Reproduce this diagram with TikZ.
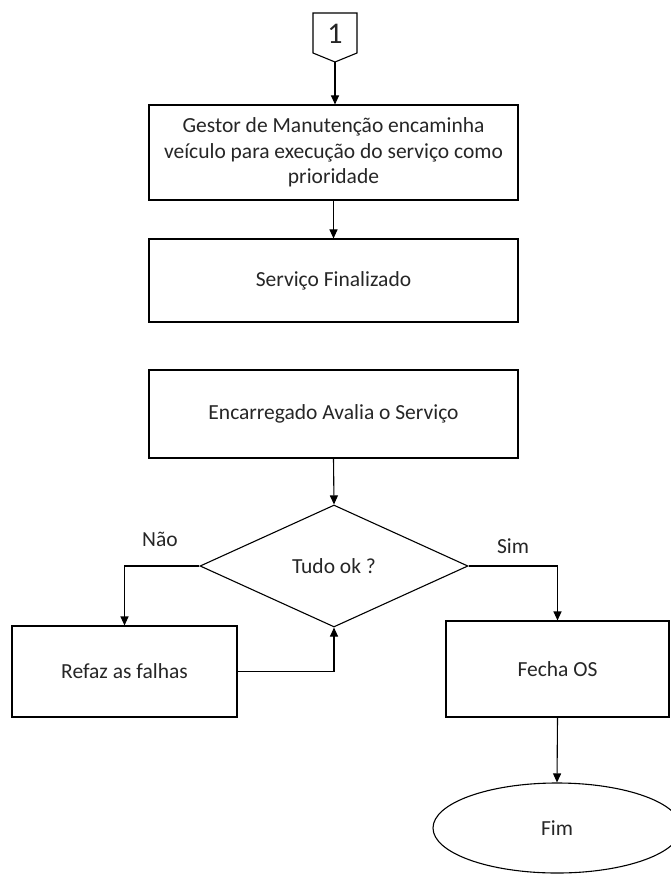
\documentclass[tikz,border=0pt]{standalone}
\usepackage{fontspec}
\setmainfont{Carlito}
\usetikzlibrary{shapes.geometric,arrows.meta}
\definecolor{ink}{HTML}{262626}
\begin{document}
\begin{tikzpicture}[x=1pt,y=-1pt,
  every node/.style={text=ink,font=\fontsize{21.5}{25.5}\selectfont},
  line/.style={draw=black,line width=1.1pt},
  arr/.style={line,-{Triangle[length=9pt,width=8pt]}},
  procbox/.style={line,rectangle,inner sep=4pt,align=center},
  decision/.style={line,diamond,inner sep=0pt,minimum width=268pt,minimum height=122pt},
  terminal/.style={line,ellipse,inner sep=0pt,minimum width=248pt,minimum height=90pt},
  lbl/.style={inner sep=0pt}]
  % page area
  \fill[white] (0,0) rectangle (670,874);
  \useasboundingbox (0,0) rectangle (670,874);

  % off-page connector "1"
  \draw[line] (313,13) -- (357,13) -- (357,53) -- (335,62) -- (313,53) -- cycle;
  \node[lbl,font=\fontsize{30}{34}\selectfont] (conn) at (335,34) {1};
  \coordinate (conntip) at (335,62);

  % process boxes
  \node[procbox,minimum width=369pt,minimum height=95pt] (gestor) at (333.5,152.5)
    {Gestor de Manutenção encaminha\\veículo para execução do serviço como\\prioridade};
  \node[procbox,minimum width=369pt,minimum height=83pt] (final) at (333.5,280.5) {Serviço Finalizado};
  \node[procbox,minimum width=369pt,minimum height=88pt] (avalia) at (333.5,414) {Encarregado Avalia o Serviço};

  % decision
  \node[decision] (ok) at (334,566) {Tudo ok ?};

  % branches
  \node[procbox,minimum width=225pt,minimum height=91pt] (refaz) at (124.5,671.5) {Refaz as falhas};
  \node[procbox,minimum width=223pt,minimum height=96pt] (fecha) at (557.5,669) {Fecha OS};
  \node[terminal] (fim) at (557,828) {Fim};

  % branch labels
  \node[lbl] (nao) at (160,539) {Não};
  \node[lbl] (sim) at (513,546) {Sim};

  % connectors
  \draw[arr] (conntip) -- (conntip |- gestor.north);
  \draw[arr] (gestor.south) -- (final.north);
  \draw[arr] (avalia.south) -- (ok.north);
  \draw[arr] (ok.west) -| (refaz.north);
  \draw[arr] (refaz.east) -| (ok.south);
  \draw[arr] (ok.east) -| (fecha.north);
  \draw[arr] (fecha.south) -- (fim.north);
\end{tikzpicture}
\end{document}
